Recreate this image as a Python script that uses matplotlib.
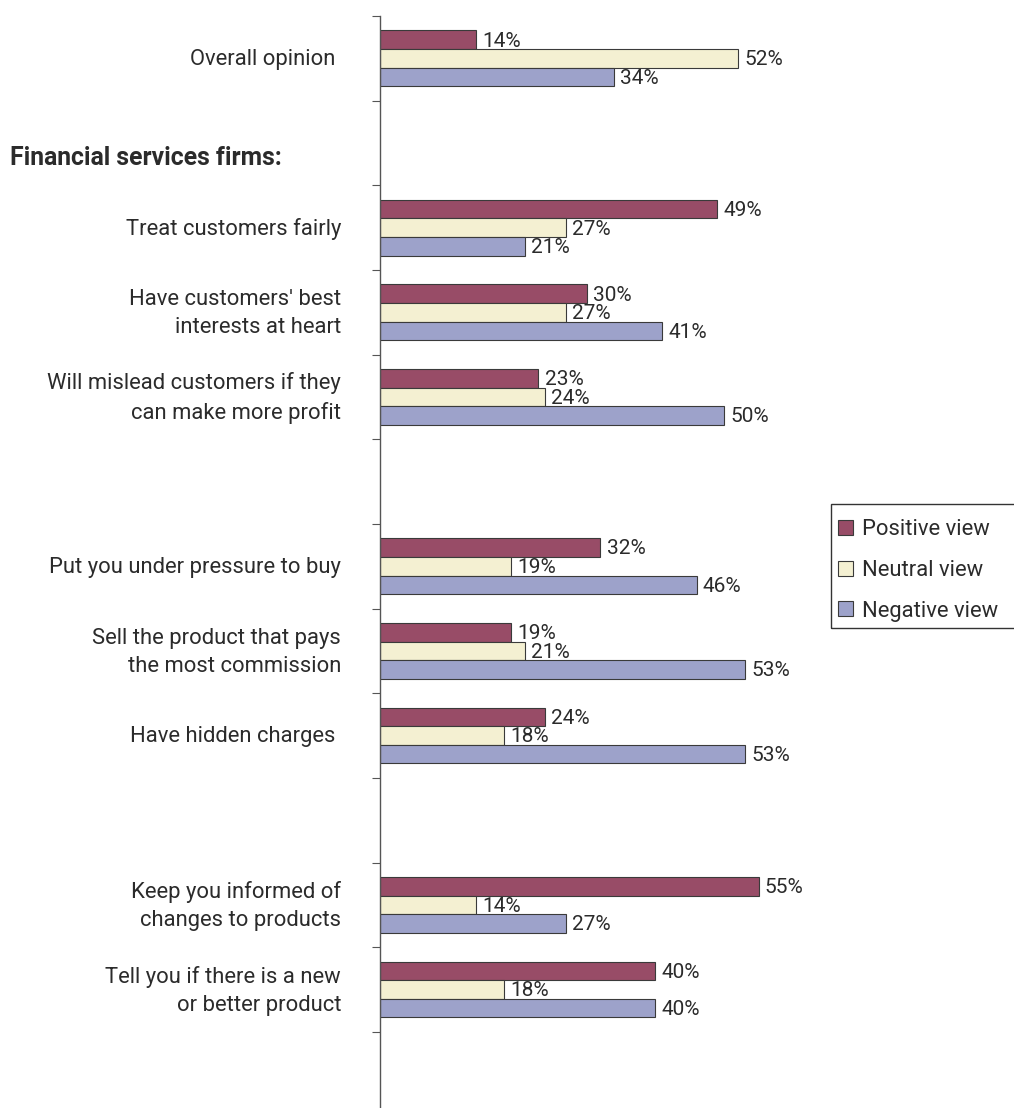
import matplotlib.pyplot as plt
from matplotlib.patches import Patch, Rectangle

plt.rcParams['font.family'] = ['Roboto', 'DejaVu Sans']

# one slot per row, empty strings are the spacer rows
labels = ["Overall opinion ", "", "Treat customers fairly",
          "Have customers' best\ninterests at heart",
          "Will mislead customers if they\ncan make more profit", "",
          "Put you under pressure to buy",
          "Sell the product that pays\nthe most commission",
          "Have hidden charges ", "",
          "Keep you informed of\nchanges to products",
          "Tell you if there is a new\nor better product"]
rows = [0, 2, 3, 4, 6, 7, 8, 10, 11]
positive = [14, 49, 30, 23, 32, 19, 24, 55, 40]
neutral = [52, 27, 27, 24, 19, 21, 18, 14, 18]
negative = [34, 21, 41, 50, 46, 53, 53, 27, 40]

series_names = ["Positive view", "Neutral view", "Negative view"]
colors = ["#984C67", "#F4F0D2", "#9DA2CA"]
edge = "#3a3a3a"
text_col = "#2b2b2b"

W, H = 1014, 1108
fig = plt.figure(figsize=(W / 100, H / 100), dpi=100)
ax = fig.add_axes([380 / W, 0, 634 / W, 1092 / H])

bh = 0.22
for k, vals in enumerate([positive, neutral, negative]):
    ys = [r + (k - 1) * bh for r in rows]
    ax.barh(ys, vals, height=bh, color=colors[k], edgecolor=edge, linewidth=0.8)
    for y, v in zip(ys, vals):
        ax.annotate(f"{v}%", xy=(v, y), xytext=(4.5, -1), textcoords="offset points",
                    ha="left", va="center", fontsize=15, color=text_col)

for i, lab in enumerate(labels):
    if lab:
        ax.annotate(lab, xy=(0, i), xytext=(-28, -1), textcoords="offset points",
                    ha="right", va="center", fontsize=15.8, color=text_col,
                    linespacing=1.45)

ax.text(-53.8, 1.18, "Financial services firms:", fontsize=17.8, fontweight="bold",
        color=text_col, ha="left", va="center")

ax.set_xlim(0, 634 / 6.885)
ax.set_ylim(12.4, -0.5)
ax.set_yticks([i - 0.5 for i in range(13)])
ax.set_yticklabels([])
ax.set_xticks([])
for s in ["top", "right", "bottom"]:
    ax.spines[s].set_visible(False)
ax.spines["left"].set_color("#555555")
ax.spines["left"].set_linewidth(1.0)
ax.tick_params(axis="y", length=6, width=0.8, color="#555555")

handles = [Patch(facecolor=c, edgecolor=edge, linewidth=0.8) for c in colors]
fig.legend(handles, series_names, loc="upper left",
           bbox_to_anchor=(838 / W, 1 - 519 / H), frameon=False, fontsize=15.8,
           handlelength=0.68, handleheight=0.68, handletextpad=0.4,
           labelspacing=0.9, borderpad=0, borderaxespad=0, labelcolor=text_col)
fig.patches.append(Rectangle((831 / W, 1 - 628 / H), 200 / W, 124 / H,
                             transform=fig.transFigure, fill=False,
                             edgecolor="#333333", linewidth=1.0))

fig.savefig("out.png", dpi=100)
